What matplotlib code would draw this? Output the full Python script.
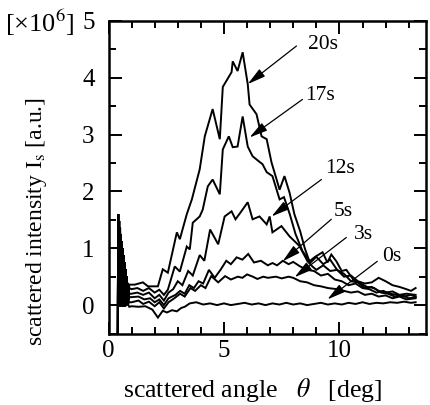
import matplotlib
matplotlib.use("Agg")
import matplotlib.pyplot as plt
from matplotlib.ticker import MultipleLocator

plt.rcParams['font.family'] = ['Liberation Serif', 'DejaVu Serif']
plt.rcParams['mathtext.fontset'] = 'stix'

# ---- data (x in deg, y in 1e6 a.u.) ----
# noisy spike near the primary beam, shared by all curves
spike_x = [0.40, 0.42, 0.44, 0.46, 0.48, 0.50, 0.52, 0.54, 0.56, 0.58, 0.60, 0.62, 0.64, 0.66,
           0.68, 0.70, 0.72, 0.74, 0.76, 0.78, 0.80, 0.82, 0.84]
spike_y = [-0.6, 1.60, 0.00, 1.48, -0.02, 1.36, 0.00, 1.24, -0.02, 1.12, 0.00, 1.00, -0.02, 0.87,
           0.00, 0.75, -0.02, 0.63, 0.00, 0.51, 0.00, 0.39, 0.02]

x20 = [0.9, 1.14, 1.49, 1.71, 2.14, 2.35, 2.57, 2.96, 3.09, 3.39, 3.61, 3.95, 4.17, 4.51, 4.82, 4.95,
       5.33, 5.38, 5.59, 5.81, 6.03, 6.11, 6.41, 6.63, 6.85, 7.06, 7.28, 7.41, 7.62, 7.84, 8.05, 8.3,
       8.5, 8.7, 8.95, 9.27, 9.48, 9.65, 9.87, 10.1, 10.3, 10.6, 10.9, 11.2, 11.5, 11.8, 12.1, 12.4,
       12.7, 13.0, 13.3]
y20 = [0.36, 0.36, 0.40, 0.33, 0.33, 0.63, 0.57, 1.28, 1.16, 1.60, 1.86, 2.39, 2.97, 3.45, 2.92, 3.84,
       4.10, 4.29, 4.12, 4.45, 3.89, 3.53, 3.36, 2.97, 2.92, 2.51, 2.21, 2.03, 2.27, 1.98, 1.60, 1.30,
       1.00, 0.77, 0.85, 0.93, 0.75, 0.89, 0.77, 0.60, 0.62, 0.45, 0.38, 0.32, 0.30, 0.22, 0.20, 0.15,
       0.18, 0.12, 0.14]

x17 = [0.9, 1.0, 1.25, 1.5, 1.75, 2.0, 2.2, 2.4, 2.57, 2.87, 3.09, 3.39, 3.52, 3.65, 3.95, 4.08, 4.3,
       4.51, 4.82, 4.95, 5.21, 5.38, 5.59, 5.81, 6.03, 6.24, 6.45, 6.67, 6.85, 7.1, 7.41, 7.6, 7.85,
       8.1, 8.4, 8.75, 9.0, 9.3, 9.6, 9.9, 10.2, 10.5, 10.8, 11.1, 11.4, 11.7, 12.0, 12.3, 12.6, 12.9,
       13.3]
y17 = [0.30, 0.28, 0.30, 0.25, 0.30, 0.22, 0.27, 0.18, 0.27, 0.68, 0.59, 1.03, 0.98, 1.45, 1.56, 1.68,
       2.09, 2.21, 1.95, 2.74, 2.97, 2.78, 2.79, 3.32, 2.79, 2.62, 2.55, 2.48, 2.34, 2.27, 1.86, 1.90,
       1.60, 1.25, 0.95, 0.75, 0.85, 0.72, 0.80, 0.62, 0.55, 0.42, 0.40, 0.30, 0.32, 0.25, 0.22, 0.24,
       0.18, 0.20, 0.18]

x12 = [0.9, 1.0, 1.25, 1.5, 1.75, 2.0, 2.2, 2.4, 2.6, 2.8, 3.0, 3.2, 3.45, 3.65, 3.95, 4.15, 4.4,
       4.75, 5.03, 5.33, 5.5, 5.7, 6.03, 6.24, 6.54, 6.85, 6.98, 7.1, 7.49, 7.84, 8.27, 8.62, 8.83,
       9.0, 9.3, 9.6, 9.9, 10.2, 10.5, 10.8, 11.1, 11.4, 11.7, 12.0, 12.3, 12.6, 12.9, 13.1, 13.3]
y12 = [0.20, 0.20, 0.22, 0.18, 0.22, 0.12, 0.18, 0.08, 0.22, 0.28, 0.42, 0.35, 0.60, 0.52, 0.88, 0.78,
       1.33, 1.07, 1.56, 1.65, 1.51, 1.62, 1.81, 1.51, 1.56, 1.42, 1.56, 1.28, 1.39, 1.21, 1.04, 0.77,
       0.68, 0.62, 0.70, 0.60, 0.62, 0.50, 0.52, 0.42, 0.38, 0.40, 0.48, 0.42, 0.35, 0.32, 0.28, 0.25,
       0.30]

x5 = [0.9, 1.0, 1.3, 1.55, 1.8, 2.0, 2.2, 2.4, 2.6, 2.9, 3.1, 3.3, 3.5, 3.7, 3.9, 4.1, 4.35, 4.6,
      4.85, 5.1, 5.3, 5.55, 5.8, 6.05, 6.3, 6.6, 6.9, 7.1, 7.3, 7.55, 7.8, 8.0, 8.3, 8.6, 8.9, 9.2,
      9.5, 9.8, 10.1, 10.4, 10.7, 11.0, 11.3, 11.6, 11.9, 12.2, 12.5, 12.8, 13.1, 13.3]
y5 = [0.14, 0.14, 0.15, 0.10, 0.12, 0.05, 0.10, 0.00, 0.12, 0.18, 0.25, 0.20, 0.35, 0.30, 0.42, 0.38,
      0.62, 0.48, 0.62, 0.78, 0.72, 0.84, 0.80, 0.90, 0.75, 0.78, 0.70, 0.74, 0.70, 0.78, 0.72, 0.76,
      0.68, 0.62, 0.60, 0.52, 0.55, 0.45, 0.42, 0.35, 0.38, 0.30, 0.28, 0.22, 0.25, 0.20, 0.18, 0.15,
      0.18, 0.15]

x3 = [0.9, 1.0, 1.3, 1.5, 1.75, 2.0, 2.2, 2.4, 2.6, 2.85, 3.1, 3.3, 3.55, 3.75, 4.0, 4.2, 4.45,
      4.75, 5.05, 5.3, 5.6, 5.8, 6.0, 6.25, 6.45, 6.7, 6.9, 7.25, 7.5, 7.8, 8.0, 8.3, 8.6, 8.9, 9.2,
      9.5, 9.9, 10.2, 10.5, 10.8, 11.1, 11.4, 11.7, 12.0, 12.3, 12.6, 12.9, 13.3]
y3 = [0.05, 0.05, 0.08, 0.02, 0.06, -0.02, 0.05, -0.06, 0.05, 0.12, 0.20, 0.15, 0.30, 0.25, 0.35,
      0.30, 0.51, 0.40, 0.51, 0.45, 0.50, 0.48, 0.54, 0.50, 0.46, 0.50, 0.48, 0.50, 0.47, 0.50, 0.48,
      0.42, 0.40, 0.35, 0.33, 0.30, 0.28, 0.25, 0.22, 0.24, 0.18, 0.20, 0.15, 0.17, 0.12, 0.15, 0.10,
      0.12]

x0 = [0.9, 1.0, 1.3, 1.6, 1.9, 2.14, 2.35, 2.53, 2.75, 2.96, 3.15, 3.3, 3.52, 3.8, 4.1, 4.4, 4.7,
      5.0, 5.3, 5.6, 5.9, 6.2, 6.5, 6.8, 7.1, 7.4, 7.7, 8.0, 8.3, 8.6, 8.9, 9.2, 9.5, 9.8, 10.1, 10.4,
      10.7, 11.0, 11.3, 11.6, 11.9, 12.2, 12.5, 12.8, 13.1, 13.3]
y0 = [-0.03, -0.02, -0.03, -0.02, -0.08, -0.22, -0.10, -0.13, -0.09, -0.11, -0.05, -0.03, 0.03,
      0.05, 0.01, 0.03, 0.00, 0.03, 0.00, 0.02, 0.04, 0.01, 0.03, 0.00, 0.03, 0.01, 0.04, 0.01, 0.03,
      0.00, 0.02, 0.04, 0.01, 0.03, 0.01, 0.04, 0.02, 0.05, 0.02, 0.04, 0.03, 0.05, 0.04, 0.06, 0.04,
      0.05]

labels = ['20s', '17s', '12s', '5s', '3s', '0s']
label_xy = [(9.31, 4.58), (9.18, 3.68), (10.04, 2.41), (10.17, 1.65), (11.04, 1.24), (12.25, 0.86)]
arrow_start = [(8.14, 4.56), (8.40, 3.62), (9.22, 2.21), (9.65, 1.51), (10.30, 1.19), (11.64, 0.77)]
arrow_tip = [(6.03, 3.89), (6.11, 2.95), (7.06, 1.56), (7.54, 0.77), (8.06, 0.49), (9.48, 0.10)]

xticks = [0, 5, 10]
yticks = [0, 1, 2, 3, 4, 5]

# ---- figure ----
fig = plt.figure(figsize=(4.3, 4.05), dpi=100)
ax = fig.add_axes([108.5 / 430, 1 - 333.5 / 405, (426 - 108.5) / 430, (333.5 - 21) / 405])

for xs, ys in [(x20, y20), (x17, y17), (x12, y12), (x5, y5), (x3, y3), (x0, y0)]:
    ax.plot(spike_x + xs, spike_y + ys, color='black', lw=1.4, solid_joinstyle='miter')

for lab, txy, s, t in zip(labels, label_xy, arrow_start, arrow_tip):
    ax.text(txy[0], txy[1], lab, fontsize=15.5, ha='center', va='center')
    ax.annotate('', xy=t, xytext=s,
                arrowprops=dict(arrowstyle='-|>,head_length=0.55,head_width=0.14',
                                color='black', lw=0.9, mutation_scale=20,
                                shrinkA=0, shrinkB=0))

ax.set_xlim(0, 13.75)
ax.set_ylim(-0.5, 5.0)
ax.set_xticks(xticks)
ax.set_yticks(yticks)
ax.xaxis.set_minor_locator(MultipleLocator(1))
ax.yaxis.set_minor_locator(MultipleLocator(0.5))
ax.tick_params(which='both', direction='in', top=True, right=True, width=1.4)
ax.tick_params(which='major', length=9)
ax.tick_params(which='minor', length=5)
ax.tick_params(axis='x', which='major', labelsize=18, pad=5)
ax.tick_params(axis='y', which='major', labelsize=18, pad=10)
for sp in ax.spines.values():
    sp.set_linewidth(1.8)

fig.text(37 / 430, 1 - 222 / 405, 'scattered intensity I$_\\mathrm{s}$ [a.u.]',
         rotation=90, ha='center', va='center', fontsize=17)
fig.text(253 / 430, 1 - 390 / 405, 'scattered angle   $\\theta$   [deg]',
         ha='center', va='center', fontsize=18.5)
fig.text(5 / 430, 1 - 32 / 405, '[×10$^6$]', ha='left', va='baseline', fontsize=19)

fig.savefig('out.png', dpi=100)
